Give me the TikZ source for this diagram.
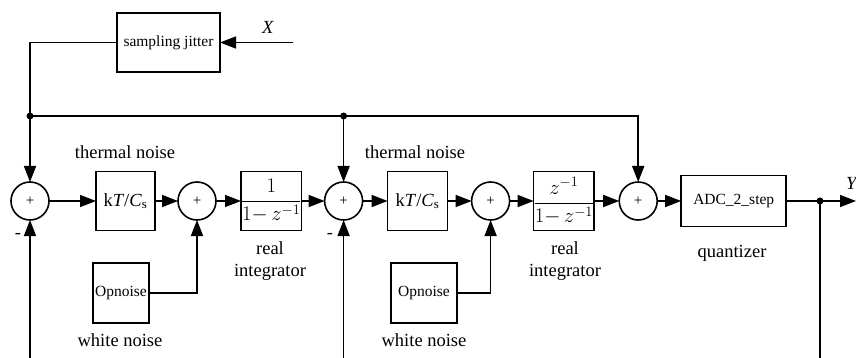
\documentclass[tikz,border=0pt]{standalone}
\usepackage{amsmath}
\usepackage{fontspec}
\setmainfont{Liberation Serif}
\usetikzlibrary{positioning,arrows.meta}

\tikzset{
  blk/.style={draw,line width=1.6pt,minimum width=59pt,minimum height=59pt,inner sep=2pt,outer sep=0pt},
  sumnode/.style={draw,circle,line width=1.6pt,minimum size=38pt,inner sep=0pt,outer sep=0pt,
                  font=\fontsize{15}{15}\selectfont},
  sig/.style={line width=1.6pt,-{Triangle[length=16pt,width=12pt]}},
  wire/.style={line width=1.6pt},
  lbl/.style={align=center,inner sep=0pt},
  small/.style={font=\fontsize{15.5}{17}\selectfont},
  frac/.style={font=\fontsize{21}{23}\selectfont,inner sep=0pt},
  jdot/.style={circle,fill,inner sep=0pt,minimum size=7pt}
}

\begin{document}
\begin{tikzpicture}[x=1pt,y=-1pt,font=\fontsize{18.5}{22}\selectfont]
\useasboundingbox (0,0) rectangle (856,358);

% modulator chain
\node[sumnode] (sum1) at (30,201) {+};
\node[blk,right=47pt of sum1] (kt1) {k\textit{T}/\textit{C}\textsubscript{s}};
\node[sumnode,right=23pt of kt1] (sum2) {+};
\node[blk,frac,right=25pt of sum2] (int1) {$\dfrac{1}{1{-}\,z^{-1}}$};
\node[sumnode,right=23pt of int1] (sum3) {+};
\node[blk,minimum width=60pt,right=25pt of sum3] (kt2) {k\textit{T}/\textit{C}\textsubscript{s}};
\node[sumnode,right=24pt of kt2] (sum4) {+};
\node[blk,frac,minimum width=60pt,right=24pt of sum4] (int2) {$\dfrac{z^{-1}}{1{-}\,z^{-1}}$};
\node[sumnode,right=25pt of int2] (sum5) {+};
\node[blk,small,minimum width=105pt,minimum height=51pt,right=24pt of sum5] (adc) {ADC\_2\_step};

% noise sources
\node[blk,small,minimum width=56pt,minimum height=60pt] (opn1) at (121,293) {Opnoise};
\node[blk,small,minimum width=66pt,minimum height=60pt] (opn2) at (424,293) {Opnoise};
\node[blk,small,minimum width=103pt,minimum height=59pt] (jitter) at (168.5,42.5) {sampling jitter};

% labels
\node[lbl] (th1) at (125,152) {thermal noise};
\node[lbl] (th2) at (415,152) {thermal noise};
\node[lbl] (ri1) at (270,261) {real\\integrator};
\node[lbl] (ri2) at (565,261) {real\\integrator};
\node[lbl] (wn1) at (120,340) {white noise};
\node[lbl] (wn2) at (424,340) {white noise};
\node[lbl] (qz) at (732,253) {quantizer};
\node[lbl] (xlab) at (268,27) {\textit{X}};
\node[lbl] (ylab) at (852,183) {\textit{Y}};
\node[lbl] (neg1) at (18,236) {-};
\node[lbl] (neg2) at (330,236) {-};

% end points
\coordinate (xin) at (293,42.5);
\coordinate (top1) at (30,116);
\coordinate (top2) at (sum3 |- top1);
\coordinate (ydot) at (820,201);
\coordinate (yout) at (856,201);
\coordinate (fb1) at (30,358);
\coordinate (fb2) at (sum3 |- fb1);
\coordinate (fb3) at (ydot |- fb1);

% signal path
\draw[sig] (sum1) -- (kt1);
\draw[sig] (kt1) -- (sum2);
\draw[sig] (sum2) -- (int1);
\draw[sig] (int1) -- (sum3);
\draw[sig] (sum3) -- (kt2);
\draw[sig] (kt2) -- (sum4);
\draw[sig] (sum4) -- (int2);
\draw[sig] (int2) -- (sum5);
\draw[sig] (sum5) -- (adc);
\draw[sig] (adc) -- (yout);

\draw[sig] (opn1.east) -| (sum2.south);
\draw[sig] (opn2.east) -| (sum4.south);

% jitter and feed-forward
\draw[sig] (xin) -- (jitter.east);
\draw[wire] (jitter.west) -| (top1);
\draw[sig] (top1) -- (sum1.north);
\draw[sig] (top1) -| (sum5.north);
\draw[sig] (top2) -- (sum3.north);

% feedback
\draw[sig] (fb1) -- (sum1.south);
\draw[sig] (fb2) -- (sum3.south);
\draw[wire] (ydot) -- (fb3);

\node[jdot] at (top1) {};
\node[jdot] at (top2) {};
\node[jdot] at (ydot) {};
\end{tikzpicture}
\end{document}
